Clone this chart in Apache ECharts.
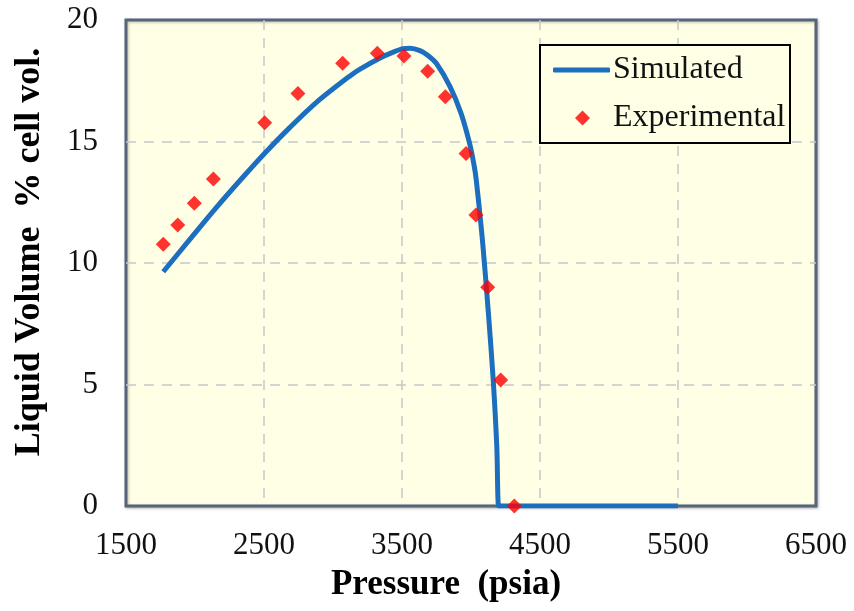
<!DOCTYPE html>
<html><head><meta charset="utf-8">
<script src="https://cdn.jsdelivr.net/npm/echarts@6/dist/echarts.min.js"></script>
<style>html,body{margin:0;padding:0;background:#fff}#c{width:854px;height:611px}</style>
</head><body><div id="c"></div>
<script>
const simPressure = [1770, 1964, 2157, 2350, 2507, 2688, 2882, 3123, 3196, 3341, 3428, 3509, 3560, 3630, 3688, 3751, 3848, 3928, 3989, 4022, 4038, 4076, 4097, 4126, 4161, 4187, 4200, 4214, 5500];
const simVolume   = [9.64, 10.98, 12.30, 13.55, 14.53, 15.58, 16.62, 17.70, 17.98, 18.44, 18.66, 18.82, 18.84, 18.74, 18.54, 18.20, 17.26, 16.16, 14.94, 14.03, 13.42, 11.36, 10.0, 7.94, 5.19, 2.43, 0, 0, 0];
const expPressure = [1770, 1875, 1995, 2133, 2505, 2746, 3070, 3321, 3514, 3686, 3814, 3964, 4036, 4121, 4215, 4314];
const expVolume   = [10.77, 11.56, 12.46, 13.46, 15.77, 16.98, 18.22, 18.63, 18.52, 17.89, 16.84, 14.51, 11.98, 9.0, 5.19, 0];
const xTicks = [1500, 2500, 3500, 4500, 5500, 6500];
const yTicks = [0, 5, 10, 15, 20];

const font = '"Liberation Serif", "Times New Roman", serif';
const blue = '#1C6EBE';
const chart = echarts.init(document.getElementById('c'));
chart.setOption({
  animation: false,
  grid: {left: 126, right: 38, top: 20, bottom: 105, show: true,
    backgroundColor: '#FFFFE6', borderColor: '#56657a', borderWidth: 3,
    shadowColor: 'rgba(0,0,0,0.25)', shadowBlur: 3, shadowOffsetX: 1, shadowOffsetY: 1},
  graphic: [{
    type: 'rect', z: 50,
    shape: {x: 540, y: 45, width: 250, height: 98},
    style: {fill: '#FFFFE6', stroke: '#000', lineWidth: 2}
  }],
  legend: [{
    z: 60, left: 553, top: 54, padding: 0,
    itemWidth: 57, itemHeight: 5, icon: 'roundRect',
    textStyle: {fontFamily: font, fontSize: 32, color: '#111', padding: [0, 0, 0, -2]},
    data: ['Simulated']
  }, {
    z: 60, left: 575, top: 102, padding: 0,
    itemWidth: 15, itemHeight: 15, icon: 'diamond',
    textStyle: {fontFamily: font, fontSize: 32, color: '#111', padding: [0, 0, 0, 18]},
    data: ['Experimental']
  }],
  xAxis: {
    type: 'value', min: 1500, max: 6500, interval: 1000,
    name: 'Pressure  (psia)', nameLocation: 'middle', nameGap: 61,
    nameTextStyle: {fontFamily: font, fontSize: 35, fontWeight: 'bold', color: '#000', padding: [0, 50, 0, 0]},
    axisLine: {show: false}, axisTick: {show: false},
    axisLabel: {fontFamily: font, fontSize: 31, color: '#111', margin: 24,
      formatter: v => xTicks.includes(v) ? String(v) : ''},
    splitLine: {show: true, showMinLine: false, showMaxLine: false,
      lineStyle: {color: '#c8c8c8', type: [10, 8], width: 1.5}}
  },
  yAxis: {
    type: 'value', min: 0, max: 20, interval: 5,
    name: 'Liquid Volume  % cell vol.', nameLocation: 'middle', nameGap: 78,
    nameTextStyle: {fontFamily: font, fontSize: 36, fontWeight: 'bold', color: '#000', padding: [0, 0, 0, 22]},
    axisLine: {show: false}, axisTick: {show: false},
    axisLabel: {fontFamily: font, fontSize: 31, color: '#111', margin: 28,
      formatter: v => yTicks.includes(v) ? String(v) : ''},
    splitLine: {show: true, showMinLine: false, showMaxLine: false,
      lineStyle: {color: '#c8c8c8', type: [10, 8], width: 1.5}}
  },
  series: [
    {
      name: 'Simulated', type: 'line', smooth: 0.3, showSymbol: false, symbol: 'none',
      data: simPressure.map((p, i) => [p, simVolume[i]]),
      lineStyle: {color: blue, width: 5, join: 'round'},
      itemStyle: {color: blue}, z: 3
    },
    {
      name: 'Experimental', type: 'scatter', symbol: 'diamond', symbolSize: 15,
      data: expPressure.map((p, i) => [p, expVolume[i]]),
      itemStyle: {color: '#FF0000'}, z: 4
    }
  ]
});
</script></body></html>
